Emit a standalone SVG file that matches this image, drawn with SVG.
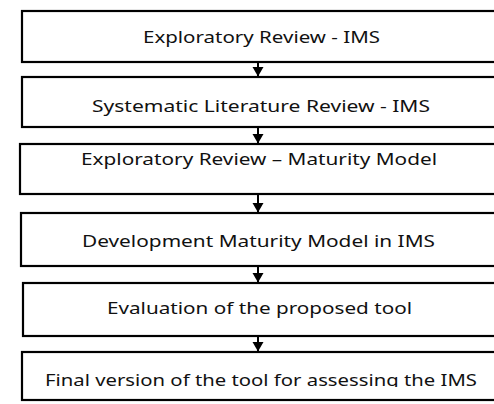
<svg xmlns="http://www.w3.org/2000/svg" width="494" height="404" viewBox="0 0 494 404">
<style>
.box{fill:#fff;stroke:#000;stroke-width:2.2}
.lbl{font-family:"Noto Sans","Open Sans",sans-serif;font-size:17px;fill:#111}
.con{stroke:#000;stroke-width:2;fill:none}
</style>
<defs>
<marker id="ah" markerWidth="10" markerHeight="12" refX="9" refY="5.5" orient="auto" markerUnits="userSpaceOnUse">
<path d="M0,0 L9.5,5.5 L0,11 Z" fill="#000"/>
</marker>
<clipPath id="cut"><rect x="0" y="0" width="494" height="387"/></clipPath>
</defs>
<rect width="494" height="404" fill="#fff"/>
<g id="connectors">
<line class="con" x1="258" y1="62" x2="258" y2="76" marker-end="url(#ah)"/>
<line class="con" x1="258" y1="127" x2="258" y2="143" marker-end="url(#ah)"/>
<line class="con" x1="258" y1="194" x2="258" y2="212" marker-end="url(#ah)"/>
<line class="con" x1="258" y1="266" x2="258" y2="282" marker-end="url(#ah)"/>
<line class="con" x1="258" y1="336" x2="258" y2="351" marker-end="url(#ah)"/>
</g>
<g id="n1">
<rect class="box" x="22" y="11" width="480" height="51"/>
<text class="lbl" x="143" y="43" textLength="237" lengthAdjust="spacingAndGlyphs">Exploratory Review - IMS</text>
</g>
<g id="n2">
<rect class="box" x="22" y="77" width="480" height="50"/>
<text class="lbl" x="92" y="111.5" textLength="338" lengthAdjust="spacingAndGlyphs">Systematic Literature Review - IMS</text>
</g>
<g id="n3">
<rect class="box" x="20" y="144" width="482" height="50"/>
<text class="lbl" x="81" y="165" textLength="356" lengthAdjust="spacingAndGlyphs">Exploratory Review – Maturity Model</text>
</g>
<g id="n4">
<rect class="box" x="21" y="213" width="481" height="53"/>
<text class="lbl" x="82" y="246.5" textLength="353" lengthAdjust="spacingAndGlyphs">Development Maturity Model in IMS</text>
</g>
<g id="n5">
<rect class="box" x="23" y="283" width="479" height="53"/>
<text class="lbl" x="107" y="314" textLength="305" lengthAdjust="spacingAndGlyphs">Evaluation of the proposed tool</text>
</g>
<g id="n6">
<rect class="box" x="22" y="352" width="480" height="48"/>
<text class="lbl" x="45" y="386" textLength="432" lengthAdjust="spacingAndGlyphs" clip-path="url(#cut)">Final version of the tool for assessing the IMS</text>
</g>
</svg>
